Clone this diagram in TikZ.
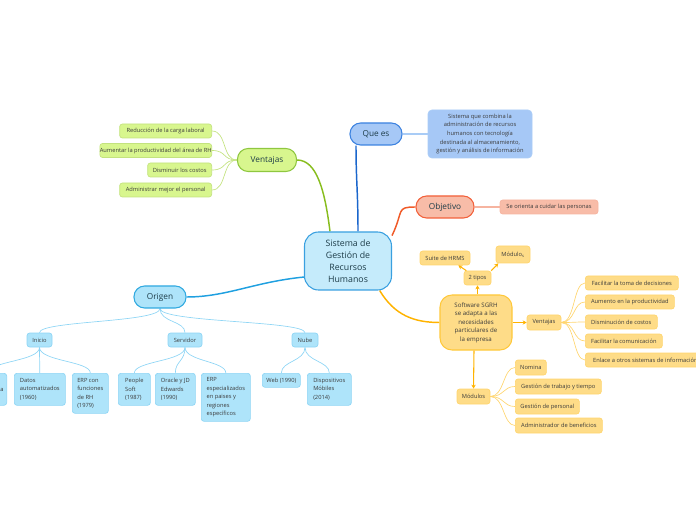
\documentclass[tikz,border=0pt]{standalone}
\usepackage{fontspec}
\setmainfont{Open Sans}
\usetikzlibrary{arrows.meta,backgrounds}

\definecolor{cenFondo}{HTML}{C5EBFB}
\definecolor{cenBorde}{HTML}{3AA0E0}
\definecolor{azulFondo}{HTML}{A6C8F6}
\definecolor{azulBorde}{HTML}{3C82E0}
\definecolor{azulLinea}{HTML}{1A66CC}
\definecolor{azulClaro}{HTML}{A9CCF6}
\definecolor{salmonFondo}{HTML}{F8BCA8}
\definecolor{salmonBorde}{HTML}{F2603A}
\definecolor{salmonLinea}{HTML}{F05A28}
\definecolor{salmonClaro}{HTML}{F6B4A0}
\definecolor{verdeFondo}{HTML}{D8F68E}
\definecolor{verdeBorde}{HTML}{8FC740}
\definecolor{verdeLinea}{HTML}{88BD1E}
\definecolor{verdeClaro}{HTML}{C3E27F}
\definecolor{celesteFondo}{HTML}{AEE4FA}
\definecolor{celesteBorde}{HTML}{30A9E0}
\definecolor{celesteLinea}{HTML}{1FA0E0}
\definecolor{celesteClaro}{HTML}{8ED5F5}
\definecolor{naranjaFondo}{HTML}{FEDC88}
\definecolor{naranjaBorde}{HTML}{FFC83A}
\definecolor{naranjaLinea}{HTML}{FFB300}
\definecolor{naranjaClaro}{HTML}{FFD56E}
\definecolor{textoTema}{HTML}{1D3C48}
\definecolor{textoHoja}{HTML}{3B3B3B}

\newcommand{\centrofont}{\fontsize{6.6}{9}\selectfont}
\newcommand{\temafont}{\fontsize{6.2}{8}\selectfont}
\newcommand{\hojafont}{\fontsize{4.3}{6.4}\selectfont}

\begin{document}
\begin{tikzpicture}[x=0.75pt,y=-0.75pt,
    tema/.style={draw, rounded corners=8pt, line width=0.8pt, font=\temafont,
        text=textoTema, inner sep=0pt, minimum width=39pt, minimum height=16.5pt},
    hoja/.style={draw, rounded corners=2pt, line width=0.5pt, font=\hojafont,
        text=textoHoja, inner sep=0pt, minimum height=10.5pt},
    verdeHoja/.style={hoja, fill=verdeFondo, draw=verdeClaro, anchor=east},
    celesteHoja/.style={hoja, fill=celesteFondo, draw=celesteClaro, align=left},
    naranjaHoja/.style={hoja, fill=naranjaFondo, draw=naranjaClaro},
    rama/.style={line width=1.1pt},
    fina/.style={line width=0.5pt},
    flecha/.style={line width=0.8pt, draw=naranjaLinea, -{Stealth[length=3pt,width=3.2pt]}},
]
\useasboundingbox (0,0) rectangle (696,520);

% Nodo central
\node[tema, fill=cenFondo, draw=cenBorde, rounded corners=10.5pt, minimum width=65.25pt,
    minimum height=43.5pt, align=center, font=\centrofont] (sgrh) at (348,261)
    {Sistema de\\Gestión de\\Recursos\\Humanos};

% Que es
\node[tema, fill=azulFondo, draw=azulBorde] (quees) at (376,134) {Que es};
\node[hoja, fill=azulFondo, draw=azulClaro, rounded corners=3pt, minimum width=78pt,
    minimum height=36pt, align=center] (definicion) at (480,134)
    {Sistema que combina la\\administración de recursos\\humanos con tecnología\\destinada al almacenamiento,\\gestión y análisis de información};

% Objetivo
\node[tema, fill=salmonFondo, draw=salmonBorde, minimum width=43.5pt] (objetivo) at (445,207) {Objetivo};
\node[hoja, fill=salmonFondo, draw=salmonClaro, minimum width=73.5pt] (cuidar) at (549,207)
    {Se orienta a cuidar las personas};

% Ventajas
\node[tema, fill=verdeFondo, draw=verdeBorde, minimum width=44.25pt, minimum height=17.25pt] (ventajas) at (267,160) {Ventajas};
\node[verdeHoja, minimum width=69pt] (carga) at (212,131) {Reducción de la carga laboral};
\node[verdeHoja, minimum width=77pt] (productividad) at (212,150.5) {Aumentar la productividad del área de RH};
\node[verdeHoja, minimum width=48pt] (costos) at (212,170) {Disminuir los costos};
\node[verdeHoja, minimum width=69pt] (personal) at (212,190) {Administrar mejor el personal};

% Origen
\node[tema, fill=celesteFondo, draw=celesteBorde] (origen) at (160,297) {Origen};
\node[celesteHoja, minimum width=18.75pt] (inicio) at (39.5,340) {Inicio};
\node[celesteHoja, minimum width=25.5pt] (servidor) at (185,340) {Servidor};
\node[celesteHoja, minimum width=19.5pt] (nube) at (305,340) {Nube};

\node[celesteHoja, anchor=north east, inner xsep=2.4pt, minimum height=24pt] (manual) at (7,373)
    {Nómina\\manuscrita\\(1950)};
\node[celesteHoja, anchor=north west, minimum width=38.25pt, minimum height=24pt] (datos) at (14,373)
    {Datos\\automatizados\\(1960)};
\node[celesteHoja, anchor=north west, minimum width=27pt, minimum height=30pt] (erpfunciones) at (72,373)
    {ERP con\\funciones\\de RH\\(1979)};
\node[celesteHoja, anchor=north west, minimum width=24pt, minimum height=24pt] (peoplesoft) at (118,373)
    {People\\Soft\\(1987)};
\node[celesteHoja, anchor=north west, minimum width=30pt, minimum height=24pt] (oracle) at (155,373)
    {Oracle y JD\\Edwards\\(1990)};
\node[celesteHoja, anchor=north west, minimum width=36.75pt, minimum height=36pt] (erpregiones) at (201,373)
    {ERP\\especializados\\en paises y\\regiones\\específicos};
\node[celesteHoja, anchor=north west, minimum width=28.5pt] (web) at (262,373) {Web (1990)};
\node[celesteHoja, anchor=north west, minimum width=33pt, minimum height=24pt] (moviles) at (307,373)
    {Dispositivos\\Móbiles\\(2014)};

% Software SGRH
\node[hoja, fill=naranjaFondo, draw=naranjaBorde, line width=0.8pt, rounded corners=9pt,
    minimum width=54pt, minimum height=41.25pt, align=center, font=\fontsize{4.6}{6.4}\selectfont]
    (software) at (476,322.5)
    {Software SGRH\\se adapta a las\\necesidades\\particulares de\\la empresa};
\node[naranjaHoja, minimum width=20.25pt] (dostipos) at (477.5,278) {2 tipos};
\node[naranjaHoja, minimum width=37.5pt] (suite) at (445,258) {Suite de HRMS};
\node[naranjaHoja, minimum width=25.5pt, minimum height=12.75pt] (modulostipo) at (513,254.5) {Módulo\textsubscript{s}};
\node[naranjaHoja, minimum width=25.5pt, minimum height=11.25pt] (ventajassw) at (544,322.5) {Ventajas};
\node[naranjaHoja, anchor=west, minimum width=69.75pt] (decisiones) at (585,283) {Facilitar la toma de decisiones};
\node[naranjaHoja, anchor=west, minimum width=66.75pt] (aumento) at (585,302) {Aumento en la productividad};
\node[naranjaHoja, anchor=west, minimum width=54pt] (disminucion) at (585,322) {Disminución de costos};
\node[naranjaHoja, anchor=west, minimum width=57.75pt] (comunicacion) at (585,341) {Facilitar la comunicación};
\node[naranjaHoja, anchor=west, minimum width=90pt] (enlace) at (585,360) {Enlace a otros sistemas de información};
\node[naranjaHoja, minimum width=24.75pt, minimum height=11.25pt] (modulos) at (473.5,396.5) {Módulos};
\node[naranjaHoja, anchor=west, minimum width=23.25pt, minimum height=11.25pt] (nomina) at (515,367.5) {Nomina};
\node[naranjaHoja, anchor=west, minimum width=64.5pt, minimum height=11.25pt] (trabajo) at (515,386.5) {Gestión de trabajo y tiempo};
\node[naranjaHoja, anchor=west, minimum width=48pt, minimum height=11.25pt] (gestpersonal) at (515,406.5) {Gestión de personal};
\node[naranjaHoja, anchor=west, minimum width=65.25pt, minimum height=11.25pt] (beneficios) at (515,425.5) {Administrador de beneficios};

\begin{scope}[on background layer]
    % Ramas principales
    \draw[rama, azulLinea] ([xshift=7.5pt]sgrh.north) .. controls +(0,-40) and +(0,35) .. ([xshift=-15pt]quees.south);
    \draw[rama, salmonLinea] (sgrh.30) .. controls +(12,-25) and +(-20,0) .. (objetivo.west);
    \draw[rama, verdeLinea] ([xshift=-13.5pt]sgrh.north) .. controls +(-5,-40) and +(20,0) .. (ventajas.east);
    \draw[rama, celesteLinea] (sgrh.200) .. controls +(-50,5) and +(40,0) .. (origen.east);
    \draw[rama, naranjaLinea] (sgrh.-43) .. controls +(15,25) and +(-25,0) .. (software.west);

    % Enlaces a las hojas
    \draw[rama, azulClaro] (quees.east) -- (definicion.west);
    \draw[rama, salmonClaro] (objetivo.east) -- (cuidar.west);
    \foreach \h in {carga,productividad,costos,personal}
        \draw[fina, verdeClaro] (ventajas.west) .. controls +(-15,0) and +(15,0) .. (\h.east);
    \foreach \h in {inicio,servidor,nube}
        \draw[fina, celesteClaro] (origen.south) .. controls +(0,14) and +(0,-12) .. (\h.north);
    \foreach \h in {manual,datos,erpfunciones}
        \draw[fina, celesteClaro] (inicio.south) .. controls +(0,14) and +(0,-12) .. (\h.north);
    \foreach \h in {peoplesoft,oracle,erpregiones}
        \draw[fina, celesteClaro] (servidor.south) .. controls +(0,14) and +(0,-12) .. (\h.north);
    \foreach \h in {web,moviles}
        \draw[fina, celesteClaro] (nube.south) .. controls +(0,14) and +(0,-12) .. (\h.north);
    \foreach \h in {decisiones,aumento,disminucion,comunicacion,enlace}
        \draw[fina, naranjaClaro] (ventajassw.east) .. controls +(14,0) and +(-12,0) .. (\h.west);
    \foreach \h in {nomina,trabajo,gestpersonal,beneficios}
        \draw[fina, naranjaClaro] (modulos.east) .. controls +(14,0) and +(-12,0) .. (\h.west);
\end{scope}

% Flechas del software
\draw[flecha] (software.north -| dostipos.south) -- (dostipos.south);
\draw[flecha] ([xshift=2pt]dostipos.north west) -- ([xshift=10pt]suite.south);
\draw[flecha] (dostipos.north east) -- ([xshift=2pt]modulostipo.south west);
\draw[flecha] (software.east) -- (ventajassw.west);
\draw[flecha] ([xshift=-1.5pt]software.south) -- (modulos.north);
\end{tikzpicture}
\end{document}
